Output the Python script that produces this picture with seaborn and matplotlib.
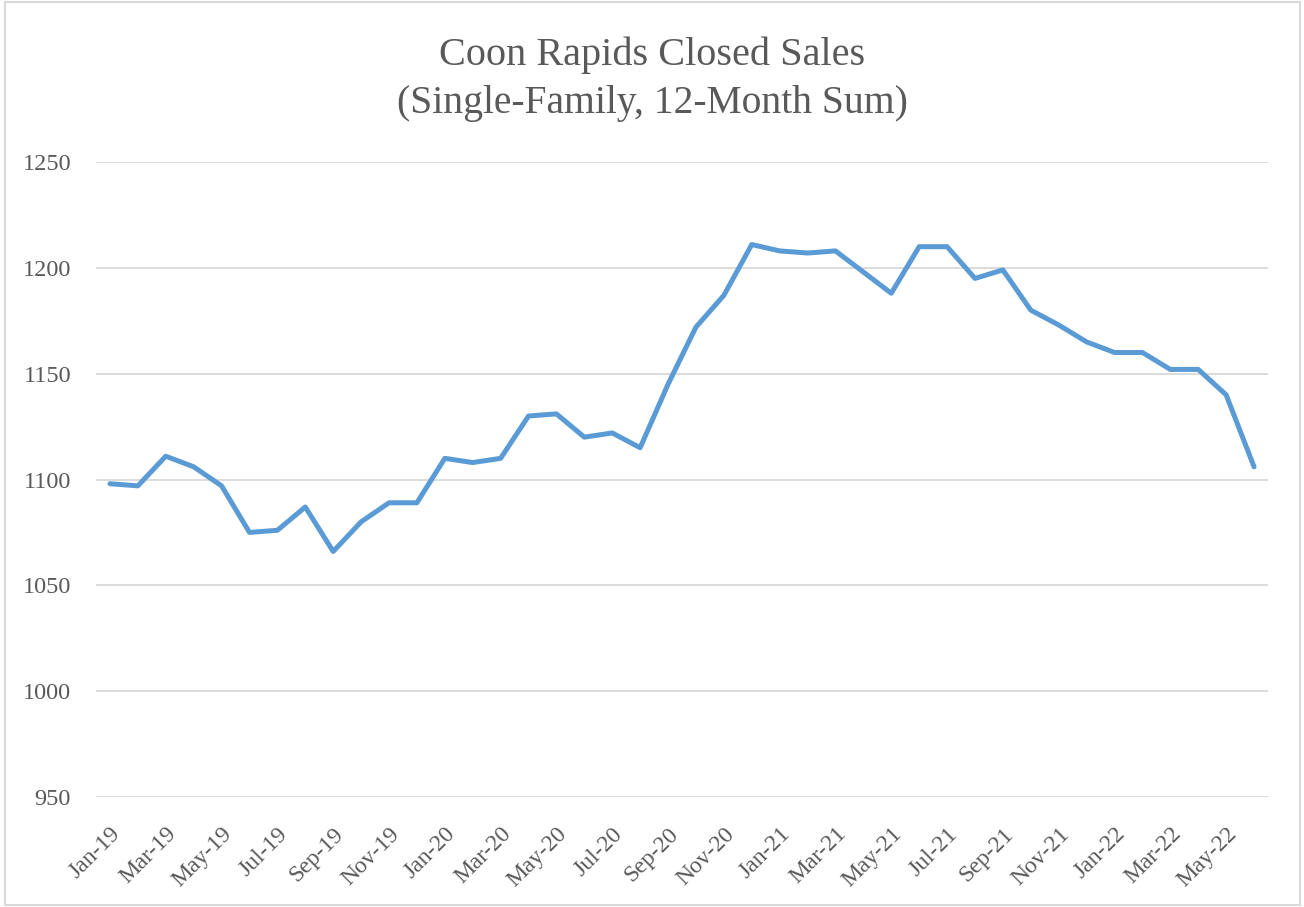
import matplotlib
matplotlib.use("Agg")
import matplotlib.pyplot as plt
import seaborn as sns
import pandas as pd
from matplotlib.patches import Rectangle

months = ["Jan-19", "Feb-19", "Mar-19", "Apr-19", "May-19", "Jun-19", "Jul-19", "Aug-19", "Sep-19", "Oct-19", "Nov-19", "Dec-19",
          "Jan-20", "Feb-20", "Mar-20", "Apr-20", "May-20", "Jun-20", "Jul-20", "Aug-20", "Sep-20", "Oct-20", "Nov-20", "Dec-20",
          "Jan-21", "Feb-21", "Mar-21", "Apr-21", "May-21", "Jun-21", "Jul-21", "Aug-21", "Sep-21", "Oct-21", "Nov-21", "Dec-21",
          "Jan-22", "Feb-22", "Mar-22", "Apr-22", "May-22", "Jun-22"]
sales = [1098, 1097, 1111, 1106, 1097, 1075, 1076, 1087, 1066, 1080, 1089, 1089,
         1110, 1108, 1110, 1130, 1131, 1120, 1122, 1115, 1145, 1172, 1187, 1211,
         1208, 1207, 1208, 1198, 1188, 1210, 1210, 1195, 1199, 1180, 1173, 1165,
         1160, 1160, 1152, 1152, 1140, 1106]
yticks = [950, 1000, 1050, 1100, 1150, 1200, 1250]

sns.set_theme(style="white")
plt.rcParams['font.family'] = ['Liberation Serif', 'DejaVu Serif']
text_color = "#595959"

df = pd.DataFrame({"idx": range(len(months)), "month": months, "sales": sales})

fig = plt.figure(figsize=(13.04, 9.07), dpi=100)
ax = fig.add_axes([96/1304, 1 - 797/907, (1268-96)/1304, (797-162)/907])

sns.lineplot(data=df, x="idx", y="sales", ax=ax, color="#5B9BD5", linewidth=3.6, legend=False)

ax.set_xlim(-0.5, len(months) - 0.5)
ax.set_ylim(950, 1250)
ax.set_yticks(yticks)
ax.set_yticklabels([str(v) for v in yticks], fontsize=17.5, color=text_color)
ax.yaxis.grid(True, color="#D9D9D9", linewidth=1.3)
ax.xaxis.grid(False)
ax.set_axisbelow(True)
tick_pos = list(range(0, len(months), 2))
ax.set_xticks(tick_pos)
ax.set_xticklabels([months[i] for i in tick_pos], rotation=45, ha="right", rotation_mode="anchor",
                   fontsize=17, color=text_color)
ax.tick_params(axis="both", length=0)
ax.tick_params(axis="x", pad=19)
ax.tick_params(axis="y", pad=18)
for s in ax.spines.values():
    s.set_visible(False)
ax.set_xlabel("")
ax.set_ylabel("")

fig.text(0.5, 1 - 55/907, "Coon Rapids Closed Sales", ha="center", va="center", fontsize=29, color=text_color)
fig.text(0.5, 1 - 104/907, "(Single-Family, 12-Month Sum)", ha="center", va="center", fontsize=28.5, color=text_color)

fig.patches.append(Rectangle((0.004, 0.002), 0.993, 0.996, transform=fig.transFigure,
                             fill=False, edgecolor="#D9D9D9", linewidth=1.5))

fig.savefig("out.png", dpi=100, facecolor="white")
